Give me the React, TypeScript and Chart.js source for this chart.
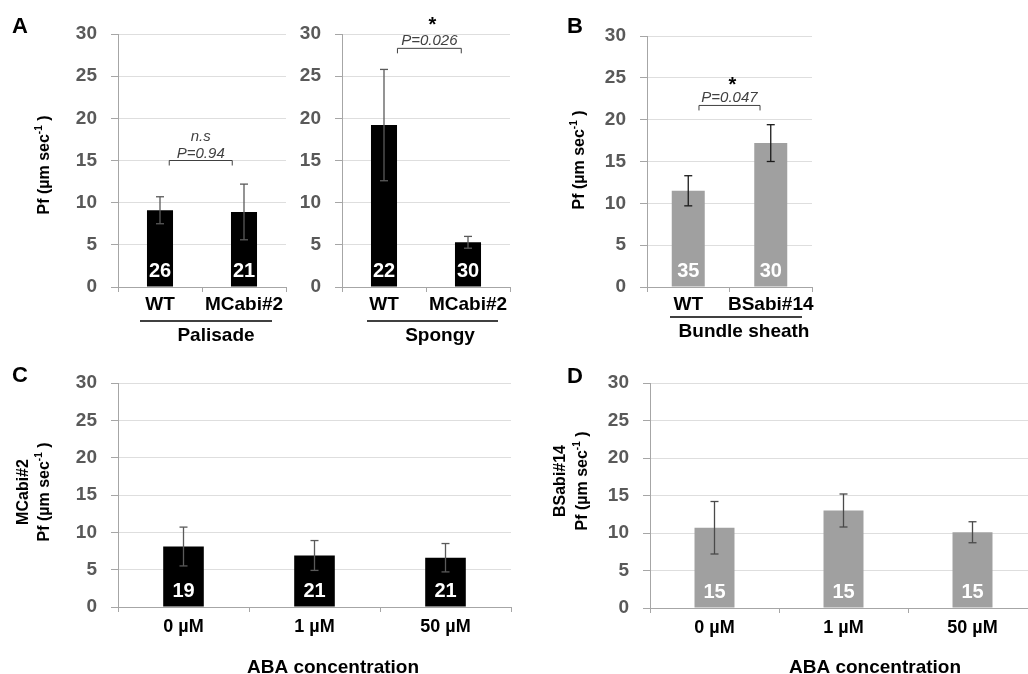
import React, { useEffect, useRef } from "react";
import { Chart, registerables } from "chart.js";

Chart.register(...registerables);

// ---------------- data ----------------
const palisadeCats = ["WT", "MCabi#2"];
const palisadeMeans = [9.1, 8.9];
const palisadeErr = [1.6, 3.3];
const palisadeN = [26, 21];

const spongyCats = ["WT", "MCabi#2"];
const spongyMeans = [19.2, 5.3];
const spongyErr = [6.6, 0.7];
const spongyN = [22, 30];

const bundleCats = ["WT", "BSabi#14"];
const bundleMeans = [11.5, 17.2];
const bundleErr = [1.8, 2.2];
const bundleN = [35, 30];

const abaCats = ["0 µM", "1 µM", "50 µM"];
const mcabiAbaMeans = [8.1, 6.9, 6.6];
const mcabiAbaErr = [2.6, 2.0, 1.9];
const mcabiAbaN = [19, 21, 21];
const bsabiAbaMeans = [10.7, 13.0, 10.1];
const bsabiAbaErr = [3.5, 2.2, 1.4];
const bsabiAbaN = [15, 15, 15];

const yMin = 0;
const yMax = 30;
const yStep = 5;

// ---------------- style ----------------
const CW = 1040;
const CH = 674;
const YW = 60;
const XH = 44;
const AXIS = "#a6a6a6";
const GRID = "#dedede";
const SANS = '"Liberation Sans", Arial, sans-serif';
const TICKFONT = '"Liberation Sans", Arial, sans-serif';
const BLACK_BAR = "#000000";
const GRAY_BAR = "#a0a0a0";

type Bracket = {
  from: number;
  to: number;
  value: number;
  pText: string;
  extra?: string;
  extraStar?: boolean;
  extraDy: number;
};
type Group = { x0: number; x1: number; y: number; label: string; lx: number; ly: number };
type TitleLine = { text: string; sup?: string; tail?: string; bx: number };
type Spec = {
  labels: string[];
  means: number[];
  errs: number[];
  ns: number[];
  color: string;
  errColor: string;
  barPct: number;
  left: number;
  right: number;
  top: number;
  bottom: number;
  xPad: number;
  xFontSize: number;
  bracket?: Bracket;
  group?: Group;
  letter?: { t: string; x: number; y: number };
  yTitle?: { cy: number; lines: TitleLine[] };
  xTitle?: { t: string; x: number; y: number };
};

const specs: Spec[] = [
  {
    labels: palisadeCats,
    means: palisadeMeans,
    errs: palisadeErr,
    ns: palisadeN,
    color: BLACK_BAR,
    errColor: "#5a5a5a",
    barPct: 0.31,
    left: 118,
    right: 286,
    top: 34,
    bottom: 287,
    xPad: 1,
    xFontSize: 19,
    bracket: { from: 0.11, to: 0.86, value: 15, pText: "P=0.94", extra: "n.s", extraDy: -20 },
    group: { x0: 140, x1: 272, y: 321, label: "Palisade", lx: 216, ly: 341 },
    letter: { t: "A", x: 12, y: 33 },
    yTitle: { cy: 165, lines: [{ text: "Pf (µm sec", sup: "-1", tail: " )", bx: 49 }] },
  },
  {
    labels: spongyCats,
    means: spongyMeans,
    errs: spongyErr,
    ns: spongyN,
    color: BLACK_BAR,
    errColor: "#5a5a5a",
    barPct: 0.31,
    left: 342,
    right: 510,
    top: 34,
    bottom: 287,
    xPad: 1,
    xFontSize: 19,
    bracket: { from: 0.16, to: 0.92, value: 28.3, pText: "P=0.026", extra: "*", extraStar: true, extraDy: -17 },
    group: { x0: 367, x1: 498, y: 321, label: "Spongy", lx: 440, ly: 341 },
  },
  {
    labels: bundleCats,
    means: bundleMeans,
    errs: bundleErr,
    ns: bundleN,
    color: GRAY_BAR,
    errColor: "#1a1a1a",
    barPct: 0.4,
    left: 647,
    right: 812,
    top: 36,
    bottom: 287,
    xPad: 1,
    xFontSize: 19,
    bracket: { from: 0.13, to: 0.87, value: 21.7, pText: "P=0.047", extra: "*", extraStar: true, extraDy: -14 },
    group: { x0: 670, x1: 802, y: 317, label: "Bundle sheath", lx: 744, ly: 337 },
    letter: { t: "B", x: 567, y: 33 },
    yTitle: { cy: 160, lines: [{ text: "Pf (µm sec", sup: "-1", tail: " )", bx: 584 }] },
  },
  {
    labels: abaCats,
    means: mcabiAbaMeans,
    errs: mcabiAbaErr,
    ns: mcabiAbaN,
    color: BLACK_BAR,
    errColor: "#5a5a5a",
    barPct: 0.31,
    left: 118,
    right: 511,
    top: 383,
    bottom: 607,
    xPad: 4,
    xFontSize: 18,
    letter: { t: "C", x: 12, y: 382 },
    yTitle: {
      cy: 492,
      lines: [
        { text: "MCabi#2", bx: 28 },
        { text: "Pf (µm sec", sup: "-1", tail: " )", bx: 48.5 },
      ],
    },
    xTitle: { t: "ABA concentration", x: 333, y: 673 },
  },
  {
    labels: abaCats,
    means: bsabiAbaMeans,
    errs: bsabiAbaErr,
    ns: bsabiAbaN,
    color: GRAY_BAR,
    errColor: "#4a4a4a",
    barPct: 0.31,
    left: 650,
    right: 1037,
    top: 383,
    bottom: 608,
    xPad: 4,
    xFontSize: 18,
    letter: { t: "D", x: 567, y: 383 },
    yTitle: {
      cy: 481,
      lines: [
        { text: "BSabi#14", bx: 565 },
        { text: "Pf (µm sec", sup: "-1", tail: " )", bx: 587 },
      ],
    },
    xTitle: { t: "ABA concentration", x: 875, y: 673 },
  },
];

function line(ctx: CanvasRenderingContext2D, x0: number, y0: number, x1: number, y1: number) {
  ctx.beginPath();
  ctx.moveTo(x0, y0);
  ctx.lineTo(x1, y1);
  ctx.stroke();
}

function drawDecor(chart: any, spec: Spec) {
  const ctx: CanvasRenderingContext2D = chart.ctx;
  const xs = chart.scales.x;
  const ys = chart.scales.y;
  const meta = chart.getDatasetMeta(0);
  ctx.save();

  // error bars + n labels
  meta.data.forEach((bar: any, i: number) => {
    const m = spec.means[i];
    const e = spec.errs[i];
    const px = bar.x;
    const yt = ys.getPixelForValue(m + e);
    const yb = ys.getPixelForValue(m - e);
    ctx.strokeStyle = spec.errColor;
    ctx.lineWidth = 1.3;
    line(ctx, px, yt, px, yb);
    line(ctx, px - 4, yt, px + 4, yt);
    line(ctx, px - 4, yb, px + 4, yb);

    ctx.fillStyle = "#ffffff";
    ctx.font = `bold 20px ${SANS}`;
    ctx.textAlign = "center";
    ctx.textBaseline = "alphabetic";
    ctx.fillText(String(spec.ns[i]), px, ys.getPixelForValue(0) - 10);
  });

  // significance bracket
  if (spec.bracket) {
    const b = spec.bracket;
    const x0 = xs.getPixelForValue(b.from);
    const x1 = xs.getPixelForValue(b.to);
    const by = ys.getPixelForValue(b.value);
    ctx.strokeStyle = "#404040";
    ctx.lineWidth = 1;
    ctx.beginPath();
    ctx.moveTo(x0, by + 5);
    ctx.lineTo(x0, by);
    ctx.lineTo(x1, by);
    ctx.lineTo(x1, by + 5);
    ctx.stroke();
    const cx = (x0 + x1) / 2;
    ctx.fillStyle = "#404040";
    ctx.textAlign = "center";
    ctx.textBaseline = "alphabetic";
    ctx.font = `italic 15px ${SANS}`;
    ctx.fillText(b.pText, cx, by - 3);
    if (b.extra) {
      if (b.extraStar) {
        ctx.fillStyle = "#000000";
        ctx.font = `bold 20px ${SANS}`;
        ctx.fillText(b.extra, cx + 3, by + b.extraDy);
      } else {
        ctx.font = `italic 15px ${SANS}`;
        ctx.fillText(b.extra, cx, by + b.extraDy);
      }
    }
  }

  // group label
  if (spec.group) {
    const g = spec.group;
    ctx.strokeStyle = "#000000";
    ctx.lineWidth = 1.6;
    line(ctx, g.x0, g.y, g.x1, g.y);
    ctx.fillStyle = "#000000";
    ctx.font = `bold 19px ${SANS}`;
    ctx.textAlign = "center";
    ctx.textBaseline = "alphabetic";
    ctx.fillText(g.label, g.lx, g.ly);
  }

  // panel letter
  if (spec.letter) {
    ctx.fillStyle = "#000000";
    ctx.font = `bold 22px ${SANS}`;
    ctx.textAlign = "left";
    ctx.textBaseline = "alphabetic";
    ctx.fillText(spec.letter.t, spec.letter.x, spec.letter.y);
  }

  // y title (rotated)
  if (spec.yTitle) {
    const mainFont = `bold 16px ${SANS}`;
    const supFont = `bold 10px ${SANS}`;
    spec.yTitle.lines.forEach((ln) => {
      ctx.save();
      ctx.translate(ln.bx, spec.yTitle!.cy);
      ctx.rotate(-Math.PI / 2);
      ctx.fillStyle = "#000000";
      ctx.textAlign = "left";
      ctx.textBaseline = "alphabetic";
      ctx.font = mainFont;
      const w1 = ctx.measureText(ln.text).width;
      const w3 = ln.tail ? ctx.measureText(ln.tail).width : 0;
      ctx.font = supFont;
      const w2 = ln.sup ? ctx.measureText(ln.sup).width : 0;
      let x = -(w1 + w2 + w3) / 2;
      ctx.font = mainFont;
      ctx.fillText(ln.text, x, 0);
      x += w1;
      if (ln.sup) {
        ctx.font = supFont;
        ctx.fillText(ln.sup, x, -7);
        x += w2;
      }
      if (ln.tail) {
        ctx.font = mainFont;
        ctx.fillText(ln.tail, x, 0);
      }
      ctx.restore();
    });
  }

  // x title
  if (spec.xTitle) {
    ctx.fillStyle = "#000000";
    ctx.font = `bold 19px ${SANS}`;
    ctx.textAlign = "center";
    ctx.textBaseline = "alphabetic";
    ctx.fillText(spec.xTitle.t, spec.xTitle.x, spec.xTitle.y);
  }

  ctx.restore();
}

function buildConfig(spec: Spec): any {
  return {
    type: "bar",
    data: {
      labels: spec.labels,
      datasets: [
        {
          data: spec.means,
          backgroundColor: spec.color,
          borderWidth: 0,
          barPercentage: spec.barPct,
          categoryPercentage: 1,
        },
      ],
    },
    options: {
      responsive: false,
      animation: false,
      events: [],
      layout: {
        padding: {
          left: spec.left - YW,
          right: CW - spec.right,
          top: spec.top,
          bottom: CH - spec.bottom - XH,
        },
      },
      plugins: {
        legend: { display: false },
        tooltip: { enabled: false },
        title: { display: false },
      },
      scales: {
        x: {
          type: "category",
          offset: true,
          grid: {
            offset: true,
            drawOnChartArea: false,
            drawTicks: true,
            tickLength: 5,
            tickColor: AXIS,
            color: AXIS,
          },
          border: { color: AXIS, width: 1 },
          ticks: {
            color: "#000000",
            font: { family: SANS, size: spec.xFontSize, weight: "bold" },
            padding: spec.xPad,
            maxRotation: 0,
            autoSkip: false,
          },
          afterFit: (s: any) => {
            s.height = XH;
          },
        },
        y: {
          min: yMin,
          max: yMax,
          ticks: {
            stepSize: yStep,
            color: "#595959",
            font: { family: TICKFONT, size: 19, weight: "bold" },
            padding: 14,
          },
          grid: {
            color: (c: any) => (c.tick && c.tick.value === 0 ? AXIS : GRID),
            tickColor: AXIS,
            tickLength: 7,
            lineWidth: 1,
          },
          border: { color: AXIS, width: 1 },
          afterFit: (s: any) => {
            s.width = YW;
          },
        },
      },
    },
    plugins: [
      {
        id: "decor",
        afterDatasetsDraw(chart: any) {
          drawDecor(chart, spec);
        },
      },
    ],
  };
}

export default function App() {
  const canvases = useRef<(HTMLCanvasElement | null)[]>([]);

  useEffect(() => {
    const charts: Chart[] = [];
    specs.forEach((s, i) => {
      const c = canvases.current[i];
      if (c) charts.push(new Chart(c, buildConfig(s)));
    });
    return () => {
      charts.forEach((c) => c.destroy());
    };
  }, []);

  return (
    <div
      style={{
        position: "fixed",
        left: 0,
        top: 0,
        width: 1028,
        height: 674,
        overflow: "hidden",
        background: "#ffffff",
      }}
    >
      {specs.map((_, i) => (
        <canvas
          key={i}
          ref={(el) => {
            canvases.current[i] = el;
          }}
          width={CW}
          height={CH}
          style={{ position: "absolute", left: 0, top: 0, width: CW, height: CH }}
        />
      ))}
    </div>
  );
}
